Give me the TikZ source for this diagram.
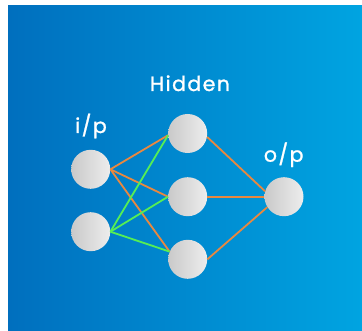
\documentclass[tikz,border=0pt]{standalone}
\usepackage{fontspec}
\setmainfont{Poppins}[LetterSpace=7,FakeBold=1.2]
\begin{document}
\begin{tikzpicture}[x=1pt,y=-1pt,
  neuron/.style={circle,minimum size=39pt,inner sep=0pt,left color=gray!42,right color=gray!14,draw=none},
  lbl/.style={text=white,font=\fontsize{20.5}{24}\selectfont,anchor=base,inner sep=0pt},
  wo/.style={color={rgb,255:red,233;green,136;blue,63},line width=1.8pt},
  wg/.style={color={rgb,255:red,85;green,238;blue,85},line width=1.8pt}]
\definecolor{bgl}{RGB}{0,111,190}
\definecolor{bgr}{RGB}{0,164,225}
\useasboundingbox (0,0) rectangle (362,331);
\fill[white] (0,0) rectangle (362,331);
\shade[left color=bgl,right color=bgr] (8,6) rectangle (362,331);
\node[neuron] (i1) at (90.7,169.3) {};
\node[neuron] (i2) at (90.7,231.7) {};
\node[neuron] (h1) at (187.7,133.5) {};
\node[neuron] (h2) at (187.7,196.7) {};
\node[neuron] (h3) at (187.7,259.3) {};
\node[neuron] (o) at (284,196.7) {};
\draw[wo] (i1.east) -- (h1.185);
\draw[wo] (i1.east) -- (h2.west);
\draw[wo] (i1.east) -- (h3.157);
\draw[wg] (i2.east) -- (h1.185);
\draw[wg] (i2.east) -- (h2.west);
\draw[wg] (i2.east) -- (h3.157);
\draw[wo] (h1.-10) -- (o.164);
\draw[wo] (h2.east) -- (o.west);
\draw[wo] (h3.east) -- (o.212);
\node[lbl] (tin) at (91,133) {i/p};
\node[lbl] (thid) at (190,91) {Hidden};
\node[lbl] (tout) at (283.7,161.7) {o/p};
\end{tikzpicture}
\end{document}
